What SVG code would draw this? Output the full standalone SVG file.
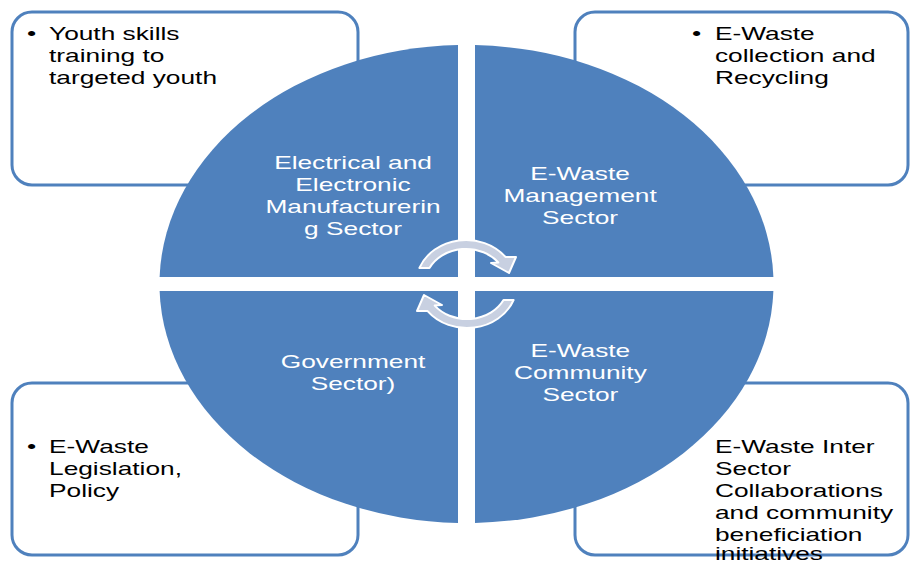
<svg xmlns="http://www.w3.org/2000/svg" width="910" height="563" viewBox="0 0 910 563">
  <style>
    .box { fill: #ffffff; stroke: #4f81bd; stroke-width: 3; }
    .quad { fill: #4f81bd; }
    .t { font-family: "Liberation Sans", Arial, sans-serif; font-size: 18px; fill: #000000; }
    .w { font-family: "Liberation Sans", Arial, sans-serif; font-size: 18px; fill: #ffffff; text-anchor: middle; }
    .cyc { fill: #c8d0e1; stroke: #ffffff; stroke-width: 2; stroke-linejoin: round; }
  </style>
  <defs>
    <!-- curved arrow over the top of the centre; the lower one is the same shape turned 180 degrees -->
    <path id="turn" d="M419.4,268 A50,44 0 0 1 505.4,256.9 L516,257 L509,273 L491,263 L498.3,262.4 A41,35 0 0 0 429.5,268 Z"/>
  </defs>

  <rect width="910" height="563" fill="#ffffff"/>

  <!-- outer boxes -->
  <g id="box-youth">
    <rect class="box" x="12" y="12" width="346" height="173" rx="20"/>
    <g transform="scale(1.46 1)">
      <text class="t" x="18.5" y="40">•</text>
      <text class="t" x="33.6" y="40">Youth skills</text>
      <text class="t" x="33.6" y="62">training to</text>
      <text class="t" x="33.6" y="84">targeted youth</text>
    </g>
  </g>
  <g id="box-recycling">
    <rect class="box" x="575" y="12" width="333" height="173" rx="20"/>
    <g transform="scale(1.46 1)">
      <text class="t" x="474" y="40">•</text>
      <text class="t" x="489.7" y="40">E-Waste</text>
      <text class="t" x="489.7" y="62">collection and</text>
      <text class="t" x="489.7" y="84">Recycling</text>
    </g>
  </g>
  <g id="box-legislation">
    <rect class="box" x="12" y="383" width="346" height="172" rx="20"/>
    <g transform="scale(1.46 1)">
      <text class="t" x="18.5" y="453">•</text>
      <text class="t" x="33.6" y="453">E-Waste</text>
      <text class="t" x="33.6" y="475">Legislation,</text>
      <text class="t" x="33.6" y="497">Policy</text>
    </g>
  </g>
  <g id="box-collaboration">
    <rect class="box" x="575" y="383" width="333" height="172" rx="20"/>
    <g transform="scale(1.46 1)">
      <text class="t" x="489.7" y="453">E-Waste Inter</text>
      <text class="t" x="489.7" y="475">Sector</text>
      <text class="t" x="489.7" y="497">Collaborations</text>
      <text class="t" x="489.7" y="519">and community</text>
      <text class="t" x="489.7" y="541">beneficiation</text>
      <text class="t" x="489.7" y="560">initiatives</text>
    </g>
  </g>

  <!-- four quarters of the central ellipse -->
  <g id="sector-manufacturing">
    <path class="quad" d="M458,277 L159.6,277 A307,239 0 0 1 458,45.1 Z"/>
    <g transform="scale(1.46 1)">
      <text class="w" x="241.8" y="169">Electrical and</text>
      <text class="w" x="241.8" y="191">Electronic</text>
      <text class="w" x="241.8" y="213">Manufacturerin</text>
      <text class="w" x="241.8" y="235">g Sector</text>
    </g>
  </g>
  <g id="sector-management">
    <path class="quad" d="M475,277 L475,45.1 A307,239 0 0 1 773.4,277 Z"/>
    <g transform="scale(1.46 1)">
      <text class="w" x="397.3" y="180">E-Waste</text>
      <text class="w" x="397.3" y="202">Management</text>
      <text class="w" x="397.3" y="224">Sector</text>
    </g>
  </g>
  <g id="sector-community">
    <path class="quad" d="M475,291 L773.4,291 A307,239 0 0 1 475,522.9 Z"/>
    <g transform="scale(1.46 1)">
      <text class="w" x="397.5" y="357">E-Waste</text>
      <text class="w" x="397.5" y="379">Community</text>
      <text class="w" x="397.5" y="401">Sector</text>
    </g>
  </g>
  <g id="sector-government">
    <path class="quad" d="M458,291 L458,522.9 A307,239 0 0 1 159.6,291 Z"/>
    <g transform="scale(1.46 1)">
      <text class="w" x="241.8" y="368">Government</text>
      <text class="w" x="241.8" y="390">Sector)</text>
    </g>
  </g>

  <!-- cycle arrows -->
  <g id="connectors">
    <use href="#turn" class="cyc"/>
    <use href="#turn" class="cyc" transform="rotate(180 466.5 284)"/>
  </g>
</svg>
